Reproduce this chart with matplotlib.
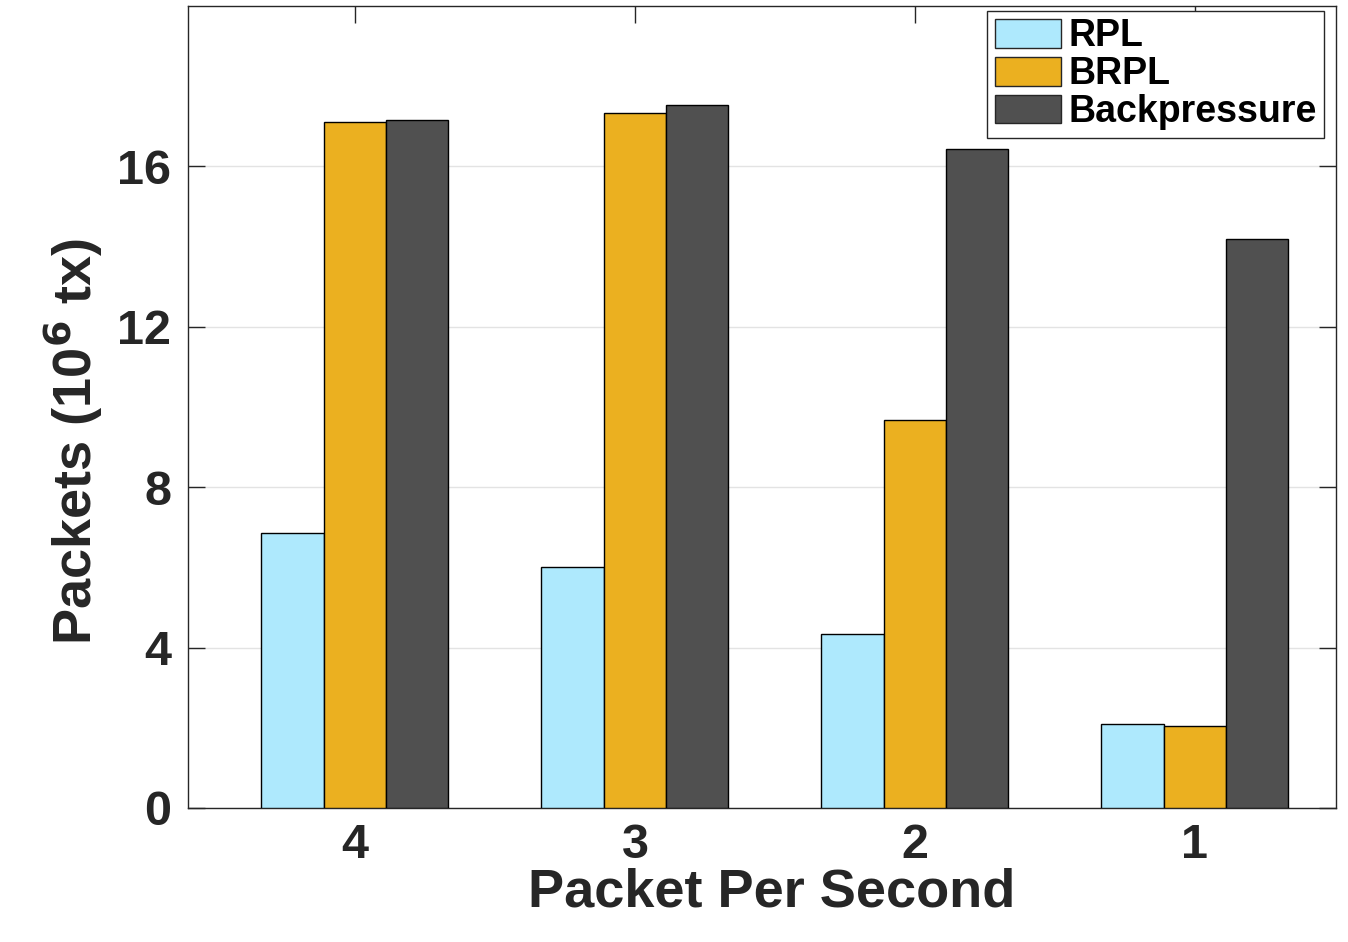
import matplotlib.pyplot as plt
import numpy as np
from matplotlib.patches import Patch

plt.rcParams['font.family'] = ['Liberation Sans', 'DejaVu Sans']
plt.rcParams['font.weight'] = 'bold'

categories = ['4', '3', '2', '1']
series_names = ['RPL', 'BRPL', 'Backpressure']
rpl = [6.85, 6.02, 4.35, 2.10]
brpl = [17.10, 17.33, 9.68, 2.05]
backpressure = [17.15, 17.53, 16.43, 14.18]
colors = ['#aee9fd', '#ebb020', '#505050']
text_color = '#262626'

fig = plt.figure(figsize=(13.48, 9.42), dpi=100)
ax = fig.add_axes([0.1395, 0.1423, 0.8516, 0.8513])

x = np.arange(1, len(categories) + 1)
w = 0.2225
for i, (vals, c) in enumerate(zip([rpl, brpl, backpressure], colors)):
	ax.bar(x + (i - 1) * w, vals, width=w, color=c, edgecolor='black',
		linewidth=1.0, zorder=3)

ax.set_xlim(0.404, 4.504)
ax.set_ylim(0, 20)
ax.set_xticks(x)
ax.set_xticklabels(categories)
ax.set_yticks([0, 4, 8, 12, 16])

ax.yaxis.grid(True, color='#e3e3e3', linewidth=1.0, zorder=0)
ax.set_axisbelow(True)

ax.tick_params(axis='both', direction='in', length=12, width=1.0,
	colors=text_color, labelsize=35, top=True, right=True)
ax.tick_params(axis='x', pad=11)
ax.tick_params(axis='y', pad=12)
for lab in ax.get_xticklabels() + ax.get_yticklabels():
	lab.set_fontweight('bold')
for s in ax.spines.values():
	s.set_color(text_color)
	s.set_linewidth(1.0)

ax.set_xlabel('Packet Per Second', fontsize=39, fontweight='bold',
	color=text_color)
ax.xaxis.set_label_coords(0.508, -0.074)
ax.set_ylabel(r'Packets (10$^{\mathbf{6}}$ tx)', fontsize=39, fontweight='bold',
	color=text_color)
ax.yaxis.set_label_coords(-0.072, 0.457)

handles = [Patch(facecolor=c, edgecolor=text_color, linewidth=1.0) for c in colors]
leg = ax.legend(handles, series_names, loc='upper right',
	bbox_to_anchor=(0.9895, 0.994), borderaxespad=0,
	frameon=True, fancybox=False, edgecolor=text_color, framealpha=1,
	handlelength=1.75, handleheight=0.8, handletextpad=0.2, labelspacing=0.05,
	borderpad=0.2, prop={'weight': 'bold', 'size': 27})
leg.get_frame().set_linewidth(1.0)
for t in leg.get_texts():
	t.set_color('black')

fig.savefig('out.png', dpi=100)
